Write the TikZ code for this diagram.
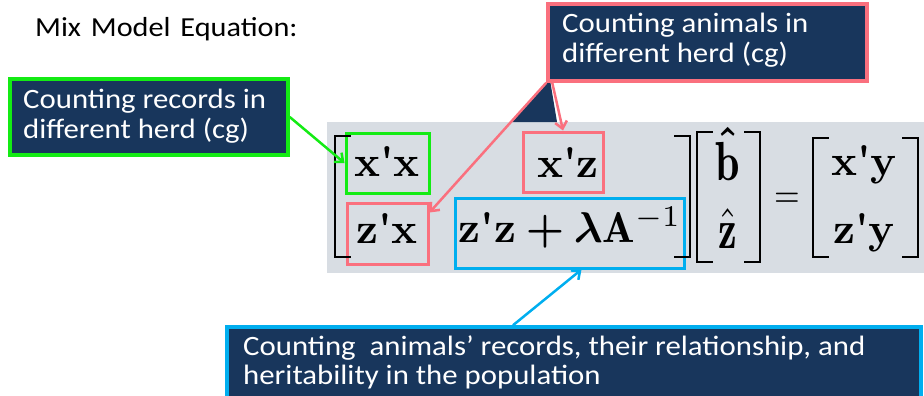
\documentclass[tikz,border=0pt]{standalone}
\usepackage{amsmath}
\usepackage{graphicx}
\usepackage{fontspec}
\usetikzlibrary{arrows.meta}
\newfontfamily\calfont{Carlito}[FakeStretch=1.1]
\definecolor{mynavy}{RGB}{24,54,92}
\definecolor{mygray}{RGB}{216,221,227}
\definecolor{mygreen}{RGB}{20,235,20}
\definecolor{mypink}{RGB}{250,112,126}
\definecolor{myblue}{RGB}{0,174,239}
\newcommand{\matsz}[1]{\scalebox{4.3}{#1}}
\newcommand{\vecsz}[1]{\scalebox{4.2}[5.6]{#1}}
\tikzset{
  callout/.style={fill=mynavy, line width=3.5pt, inner sep=0pt, minimum width=#1},
  calltext/.style={anchor=base west, inner sep=0pt, text=white, font=\calfont\fontsize{28}{30}\selectfont},
  mbox/.style={line width=3pt, inner sep=0pt},
  ment/.style={anchor=base, inner sep=0pt},
  brk/.style={line width=2.2pt, line cap=rect},
  arr/.style={line width=2.5pt, -{Straight Barb[length=7pt,width=12pt]}}
}
\begin{document}
\begin{tikzpicture}[x=1pt,y=-1pt]
\useasboundingbox (0,0) rectangle (924,396);
% gray panel
\fill[mygray] (327,122) rectangle (924,273);
% pointer triangle of top callout
\fill[mynavy] (550,80) -- (512,122) -- (557,122) -- cycle;
% title
\node[anchor=base west, inner sep=0pt, font=\calfont\fontsize{27.5}{30}\selectfont] (title) at (35,36.7) {Mix\ \hspace{3pt}Model\ \hspace{3pt}Equation:};
% callouts
\node[callout=278pt, draw=mygreen, minimum height=76pt] (gcall) at (149,117) {};
\node[calltext] (g1) at (23,108) {Counting records in};
\node[calltext] (g2) at (23,138) {different herd (cg)};
\node[callout=319pt, draw=mypink, minimum height=77pt] (pcall) at (707.5,42.5) {};
\node[calltext] (p1) at (562,33) {Counting animals in};
\node[calltext] (p2) at (562,63) {different herd (cg)};
\node[callout=694pt, draw=myblue, minimum height=90pt] (bcall) at (574,372) {};
\node[calltext] (b1) at (243,355) {Counting\ \ animals’ records, their relationship, and};
\node[calltext] (b2) at (243,384) {heritability in the population};
% matrix element boxes
\node[mbox, draw=mygreen, minimum width=83pt, minimum height=60pt] (gbox) at (387.5,163) {};
\node[mbox, draw=mypink, minimum width=80pt, minimum height=60pt] (pxz) at (563,162) {};
\node[mbox, draw=mypink, minimum width=81pt, minimum height=61pt] (pzx) at (387.5,233.5) {};
\node[mbox, draw=myblue, minimum width=229pt, minimum height=70pt] (bz) at (569.5,233) {};
% matrix entries
\node[ment] (xx) at (387,176) {\matsz{\textbf{x\textquotesingle x}}};
\node[ment] (xz) at (568,177) {\matsz{\textbf{x\textquotesingle z}}};
\node[ment] (zx) at (387,243) {\matsz{\textbf{z\textquotesingle x}}};
\node[ment] (zz) at (570,242) {\matsz{$\text{\textbf{z\textquotesingle z}}\mathbin{\boldsymbol{+}}\boldsymbol{\lambda}\mathbf{A}^{-1}$}};
\node[ment] (bh) at (728,180) {\scalebox{4.4}[5.5]{\ooalign{$\mathbf{b}$\cr\hidewidth\raisebox{2.55pt}{$\boldsymbol{\hat{\phantom{\mathbf{x}}}}$}\hidewidth\cr}}};
\node[ment] (zh) at (728,248) {\vecsz{$\hat{\mathbf{z}}$}};
\node[ment] (eq) at (787,207) {\scalebox{3.3}[3.9]{$=$}};
\node[ment] (xy) at (864,175) {\matsz{\textbf{x\textquotesingle y}}};
\node[ment] (zy) at (864,243) {\matsz{\textbf{z\textquotesingle y}}};
% brackets
\draw[brk] (350,136) -- (335,136) -- (335,257) -- (350,257);
\draw[brk] (675,136) -- (690,136) -- (690,257) -- (675,257);
\draw[brk] (712,132) -- (697,132) -- (697,262) -- (712,262);
\draw[brk] (745,132) -- (760,132) -- (760,262) -- (745,262);
\draw[brk] (828,138) -- (813,138) -- (813,257) -- (828,257);
\draw[brk] (903,138) -- (918,138) -- (918,257) -- (903,257);
% connectors
\draw[arr, mygreen] (gcall.east) -- (gbox.west);
\draw[arr, mypink] ([xshift=6pt]pcall.south west) -- (pxz.north);
\draw[arr, mypink] (pcall.south west) -- ([yshift=21pt]pzx.east);
\draw[arr, myblue] ([xshift=-61pt]bcall.north) -- ([xshift=12pt]bz.south);
\end{tikzpicture}
\end{document}
